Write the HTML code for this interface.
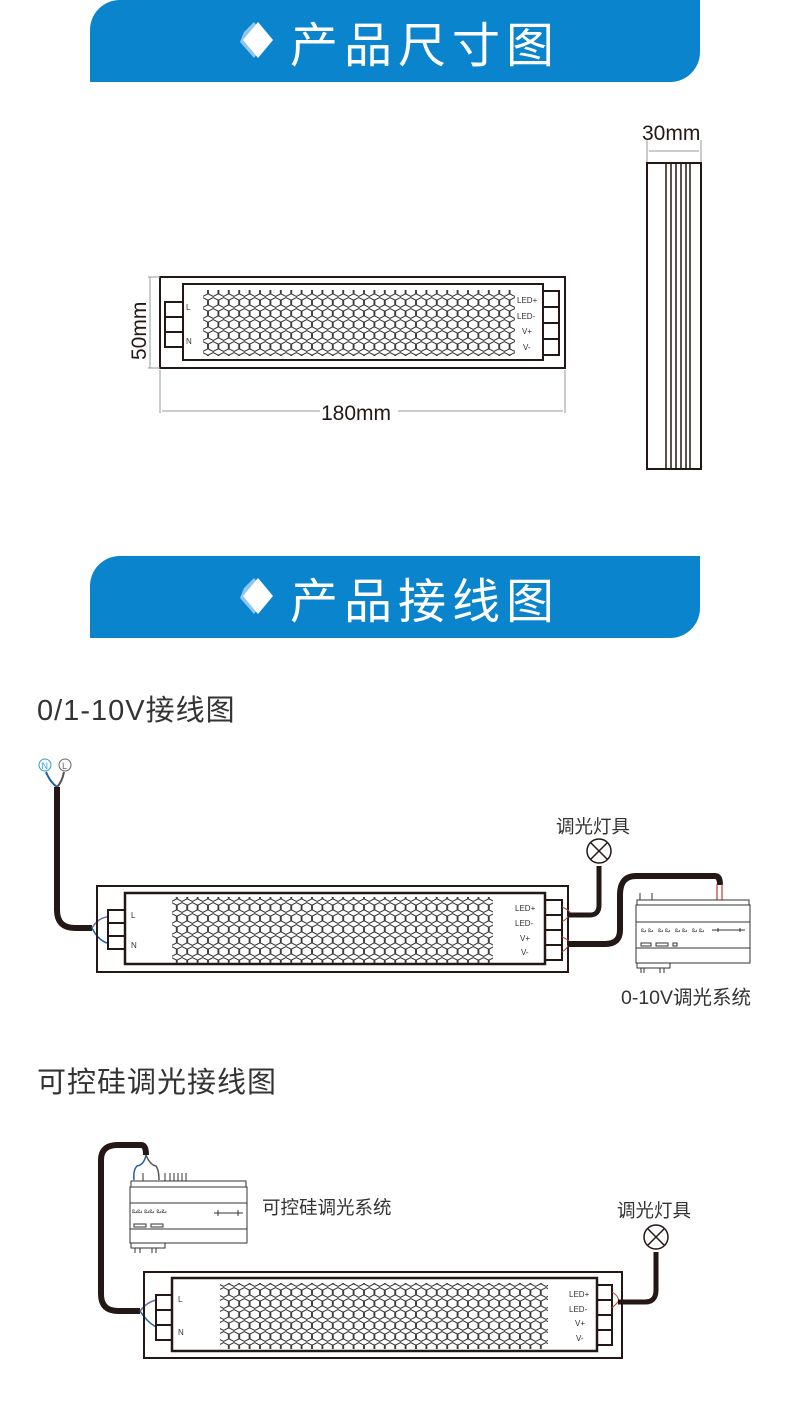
<!DOCTYPE html>
<html><head><meta charset="utf-8"><style>
html,body{margin:0;padding:0;background:#fff;}
svg{display:block;}
text{font-family:"Liberation Sans","Noto Sans CJK SC",sans-serif;}
</style></head><body>
<svg width="790" height="1407" viewBox="0 0 790 1407" xmlns="http://www.w3.org/2000/svg">
<defs>
<pattern id="hx" x="0" y="0" width="10.4" height="11" patternUnits="userSpaceOnUse">
<polygon points="5.2,0.6 10,3 10,8 5.2,10.4 0.4,8 0.4,3" fill="none" stroke="#333" stroke-width="1"/>
</pattern>
</defs>

<!-- Banner 1 -->
<path d="M120,0 H700 V52 A30,30 0 0 1 670,82 H90 V30 A30,30 0 0 1 120,0Z" fill="#0a84cc"/>
<polygon points="244,32 254,22 268,40 254,58 240,42" fill="#8fc6ec"/>
<polygon points="258,22 273,40 258,58 243,40" fill="#fff"/>
<text x="290" y="62" font-size="48" fill="#fff" letter-spacing="6">产品尺寸图</text>

<!-- Banner 2 -->
<path d="M120,556 H700 V608 A30,30 0 0 1 670,638 H90 V586 A30,30 0 0 1 120,556Z" fill="#0a84cc"/>
<polygon points="244,588 254,578 268,596 254,614 240,598" fill="#8fc6ec"/>
<polygon points="258,578 273,596 258,614 243,596" fill="#fff"/>
<text x="290" y="618" font-size="48" fill="#fff" letter-spacing="6">产品接线图</text>

<!-- Driver dims -->
<g fill="none" stroke="#231815">
<rect x="160" y="277" width="405" height="91" stroke-width="2"/>
<rect x="183" y="284" width="360" height="76" stroke-width="2"/>
<rect x="165" y="302" width="18" height="15" stroke-width="2"/>
<rect x="165" y="317" width="18" height="15" stroke-width="2"/>
<rect x="165" y="332" width="18" height="15" stroke-width="2"/>
<rect x="543" y="291" width="16" height="16" stroke-width="2"/>
<rect x="543" y="307" width="16" height="16" stroke-width="2"/>
<rect x="543" y="323" width="16" height="16" stroke-width="2"/>
<rect x="543" y="339" width="16" height="16" stroke-width="2"/>
</g>
<rect x="203" y="290" width="312" height="66" fill="url(#hx)"/>
<g font-size="8" fill="#333">
<text x="186" y="310">L</text><text x="186" y="344">N</text>
<text x="517" y="303">LED+</text><text x="517" y="319">LED-</text>
<text x="522" y="334">V+</text><text x="523" y="350">V-</text>
</g>
<g stroke="#999" fill="none" stroke-width="1">
<line x1="150" y1="277" x2="150" y2="368"/>
<line x1="148" y1="277" x2="160" y2="277"/>
<line x1="148" y1="368" x2="160" y2="368"/>
<line x1="160" y1="370" x2="160" y2="413"/>
<line x1="565" y1="370" x2="565" y2="413"/>
<line x1="162" y1="411" x2="320" y2="411"/>
<line x1="398" y1="411" x2="563" y2="411"/>
<line x1="647" y1="140" x2="647" y2="163"/>
<line x1="701" y1="140" x2="701" y2="163"/>
<line x1="649" y1="151" x2="699" y2="151"/>
</g>
<text x="321" y="420" font-size="21" fill="#231815">180mm</text>
<text x="0" y="0" font-size="21" fill="#231815" transform="translate(146,360) rotate(-90)">50mm</text>
<text x="642" y="140" font-size="21" fill="#231815">30mm</text>

<!-- side view -->
<g fill="none" stroke="#231815" stroke-width="2">
<rect x="647" y="163" width="54" height="306"/>
<line x1="666" y1="163" x2="666" y2="469" stroke-width="1.5"/>
<line x1="671" y1="163" x2="671" y2="469" stroke-width="1.5"/>
<line x1="676" y1="163" x2="676" y2="469" stroke-width="1.5"/>
<line x1="681" y1="163" x2="681" y2="469" stroke-width="1.5"/>
<line x1="686" y1="163" x2="686" y2="469" stroke-width="1.5"/>
<line x1="690" y1="163" x2="690" y2="469" stroke-width="1.5"/>
</g>

<!-- Section headings -->
<text x="37" y="720" font-size="29" fill="#333" letter-spacing="1">0/1-10V接线图</text>
<text x="37" y="1092" font-size="29" fill="#333" letter-spacing="1">可控硅调光接线图</text>

<!-- Diagram 1 -->
<circle cx="45" cy="765" r="6" fill="none" stroke="#2a9fd8" stroke-width="1"/>
<text x="41.5" y="769" font-size="9" fill="#2a9fd8">N</text>
<circle cx="65" cy="765" r="6" fill="none" stroke="#666" stroke-width="1"/>
<text x="62" y="769" font-size="9" fill="#666">L</text>
<path d="M46,772 Q50,782 57,787" stroke="#1f5fa8" stroke-width="2" fill="none"/>
<path d="M64,772 Q62,782 57,787" stroke="#555" stroke-width="2" fill="none"/>
<path d="M57,787 V910 Q57,928 75,928 H92" stroke="#231815" stroke-width="6" fill="none"/>
<path d="M92,928 Q98,918 107,917" stroke="#6b6fa8" stroke-width="1.5" fill="none"/>
<path d="M92,928 Q98,940 107,943" stroke="#1f5fa8" stroke-width="1.5" fill="none"/>

<g fill="none" stroke="#231815">
<rect x="97" y="886" width="471" height="86" stroke-width="2"/>
<rect x="125" y="893" width="420" height="71" stroke-width="2.5"/>
<rect x="108" y="910" width="17" height="13" stroke-width="2"/>
<rect x="108" y="923" width="17" height="13" stroke-width="2"/>
<rect x="108" y="936" width="17" height="13" stroke-width="2"/>
<rect x="545" y="900" width="17" height="15" stroke-width="2"/>
<rect x="545" y="915" width="17" height="15" stroke-width="2"/>
<rect x="545" y="930" width="17" height="15" stroke-width="2"/>
<rect x="545" y="945" width="17" height="15" stroke-width="2"/>
</g>
<rect x="172" y="897" width="321" height="66" fill="url(#hx)"/>
<g font-size="8" fill="#333">
<text x="131" y="918">L</text><text x="131" y="948">N</text>
<text x="515" y="911">LED+</text><text x="515" y="926">LED-</text>
<text x="520" y="941">V+</text><text x="521" y="955">V-</text>
</g>
<path d="M562,907 Q574,912 568,916 M562,922 Q568,918 568,916" stroke="#c0392b" stroke-width="1" fill="none"/>
<path d="M562,937 Q574,942 568,945 M562,952 Q568,948 568,945" stroke="#c0392b" stroke-width="1" fill="none"/>
<path d="M568,915 H590 Q599,915 599,905 V866" stroke="#231815" stroke-width="5" fill="none"/>
<path d="M568,944 H605 Q620,944 620,930 V895 Q620,876 636,876 H715 Q720,876 720,885" stroke="#231815" stroke-width="6" fill="none"/>
<path d="M717,884 V900 M722,884 V900" stroke="#c0392b" stroke-width="1.2" fill="none"/>
<circle cx="599" cy="851" r="12" fill="none" stroke="#231815" stroke-width="1.5"/>
<path d="M591,843 L607,859 M607,843 L591,859" stroke="#231815" stroke-width="1.5"/>
<text x="556" y="833" font-size="18.5" fill="#333">调光灯具</text>

<!-- controller 1 -->
<g fill="none" stroke="#333" stroke-width="1">
<rect x="636" y="905" width="114" height="58"/>
<line x1="636" y1="922" x2="750" y2="922"/>
<line x1="636" y1="948" x2="750" y2="948"/>
<rect x="637" y="900" width="112" height="5"/>
<line x1="640" y1="893" x2="640" y2="900"/>
<line x1="652" y1="893" x2="652" y2="900"/>
<rect x="637" y="963" width="33" height="5"/>
<line x1="641" y1="968" x2="641" y2="973"/><line x1="644" y1="968" x2="644" y2="973"/>
<line x1="660" y1="968" x2="660" y2="973"/><line x1="664" y1="968" x2="664" y2="973"/>
<path d="M712,930 H745 M718,928 V932 M740,928 V932"/>
<rect x="641" y="943" width="10" height="3"/><rect x="656" y="943" width="12" height="3"/><rect x="673" y="943" width="4" height="3"/>
</g>
<g font-size="7" fill="#333"><text x="641" y="932">ఒ ఒ</text><text x="658" y="932">ఒ ఒ</text><text x="675" y="932">ఒ ఒ</text><text x="692" y="932">ఒ ఒ</text></g>
<text x="621" y="1004" font-size="19.5" fill="#333">0-10V调光系统</text>

<!-- Diagram 2 -->
<path d="M140,1311 H118 Q101,1311 101,1294 V1160 Q101,1145 118,1145 H141 Q146,1145 146,1155" stroke="#231815" stroke-width="6" fill="none"/>
<path d="M146,1155 Q144,1165 137,1166 Q133,1170 134,1180" stroke="#1f5fa8" stroke-width="1.5" fill="none"/>
<path d="M146,1155 Q150,1165 156,1166 Q159,1170 159,1180" stroke="#555" stroke-width="1.5" fill="none"/>
<path d="M140,1311 Q147,1302 156,1300" stroke="#6b6fa8" stroke-width="1.5" fill="none"/>
<path d="M140,1311 Q147,1322 156,1327" stroke="#1f5fa8" stroke-width="1.5" fill="none"/>
<g fill="none" stroke="#333" stroke-width="1">
<rect x="130" y="1187" width="117" height="56"/>
<line x1="130" y1="1203" x2="247" y2="1203"/>
<line x1="130" y1="1229" x2="247" y2="1229"/>
<rect x="131" y="1181" width="115" height="6"/>
<line x1="143" y1="1173" x2="143" y2="1181"/><line x1="165" y1="1173" x2="165" y2="1181"/>
<line x1="170" y1="1173" x2="170" y2="1181"/><line x1="174" y1="1173" x2="174" y2="1181"/>
<line x1="178" y1="1173" x2="178" y2="1181"/><line x1="182" y1="1173" x2="182" y2="1181"/>
<line x1="186" y1="1173" x2="186" y2="1181"/>
<rect x="131" y="1243" width="34" height="5"/>
<line x1="135" y1="1248" x2="135" y2="1253"/><line x1="140" y1="1248" x2="140" y2="1253"/>
<line x1="152" y1="1248" x2="152" y2="1253"/><line x1="156" y1="1248" x2="156" y2="1253"/>
<path d="M214,1213 H243 M218,1210 V1216 M238,1210 V1216"/>
<rect x="134" y="1224" width="12" height="3"/><rect x="151" y="1224" width="12" height="3"/>
</g>
<g font-size="7" fill="#333"><text x="132" y="1213">ఒఒ ఒఒ ఒఒ</text></g>
<text x="262" y="1214" font-size="18.5" fill="#333">可控硅调光系统</text>

<g fill="none" stroke="#231815">
<rect x="144" y="1272" width="478" height="86" stroke-width="2"/>
<rect x="172" y="1278" width="425" height="73" stroke-width="2.5"/>
<rect x="156" y="1295" width="16" height="15" stroke-width="2"/>
<rect x="156" y="1310" width="16" height="15" stroke-width="2"/>
<rect x="156" y="1325" width="16" height="15" stroke-width="2"/>
<rect x="597" y="1285" width="15" height="15" stroke-width="2"/>
<rect x="597" y="1300" width="15" height="15" stroke-width="2"/>
<rect x="597" y="1315" width="15" height="15" stroke-width="2"/>
<rect x="597" y="1330" width="15" height="15" stroke-width="2"/>
</g>
<rect x="220" y="1283" width="328" height="66" fill="url(#hx)"/>
<g font-size="8" fill="#333">
<text x="178" y="1302">L</text><text x="178" y="1335">N</text>
<text x="569" y="1297">LED+</text><text x="569" y="1312">LED-</text>
<text x="575" y="1326">V+</text><text x="576" y="1341">V-</text>
</g>
<path d="M612,1292 Q620,1297 618,1302 M612,1308 Q616,1304 618,1302" stroke="#c0392b" stroke-width="1" fill="none"/>
<path d="M618,1302 H645 Q656,1302 656,1290 V1252" stroke="#231815" stroke-width="5" fill="none"/>
<circle cx="656" cy="1237" r="12" fill="none" stroke="#231815" stroke-width="1.5"/>
<path d="M648,1229 L664,1245 M664,1229 L648,1245" stroke="#231815" stroke-width="1.5"/>
<text x="617" y="1217" font-size="18.5" fill="#333">调光灯具</text>
</svg>
</body></html>
